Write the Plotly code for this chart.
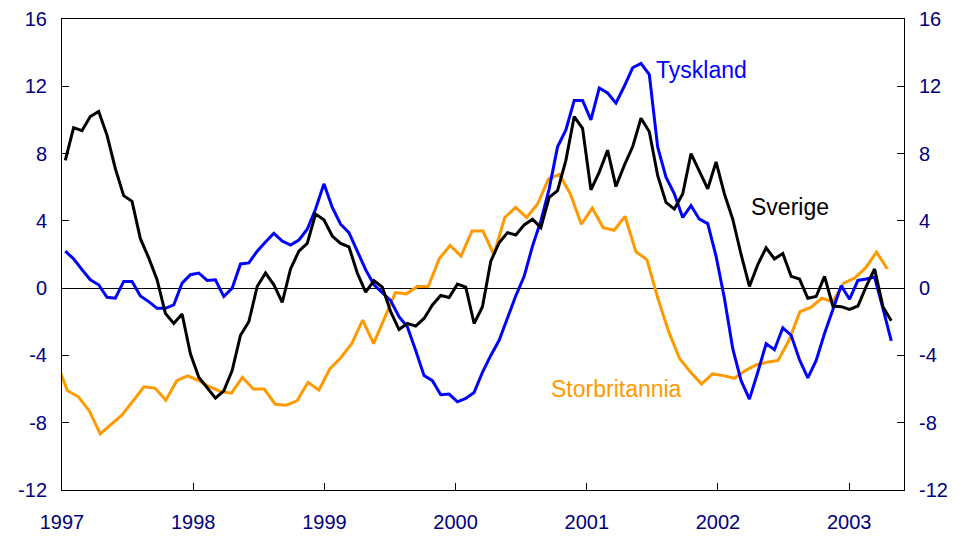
import numpy as np
import plotly.graph_objects as go

# ---------------- data ----------------
years = [1997, 1998, 1999, 2000, 2001, 2002, 2003]
year_labels = [str(y) for y in years]
y_ticks = [-12, -8, -4, 0, 4, 8, 12, 16]
y_tick_labels = [str(v) for v in y_ticks]

sverige = [7.6, 9.54, 9.36, 10.2, 10.5, 9.1, 7.1, 5.5, 5.16, 2.94,
           1.8, 0.5, -1.5, -2.1, -1.54, -3.9, -5.3, -5.9, -6.54, -6.1,
           -4.9, -2.8, -2.0, 0.1, 0.9, 0.2, -0.84, 1.14, 2.2, 2.66,
           4.4, 4.06, 3.1, 2.66, 2.46, 0.9, -0.24, 0.44, 0.06, -1.4,
           -2.46, -2.1, -2.26, -1.8, -1.0, -0.44, -0.56, 0.24, 0.06, -2.1,
           -1.1, 1.6, 2.7, 3.3, 3.16, 3.76, 4.1, 3.6, 5.4, 5.8,
           7.6, 10.2, 9.5, 5.84, 6.9, 8.2, 6.04, 7.3, 8.4, 10.1,
           9.3, 6.7, 5.1, 4.7, 5.6, 8.0, 6.9, 5.9, 7.5, 5.6,
           4.1, 2.0, 0.1, 1.4, 2.4, 1.74, 2.06, 0.7, 0.54, -0.6,
           -0.5, 0.7, -1.06, -1.1, -1.26, -1.06, 0.1, 1.14, -1.1, -1.94]

tyskland = [2.2, 1.74, 1.1, 0.5, 0.2, -0.54, -0.6, 0.4, 0.4, -0.46,
            -0.8, -1.2, -1.2, -1.0, 0.3, 0.8, 0.9, 0.46, 0.5, -0.5,
            0.0, 1.44, 1.5, 2.2, 2.74, 3.26, 2.8, 2.56, 2.86, 3.5,
            4.7, 6.2, 4.8, 3.8, 3.3, 2.2, 1.1, 0.2, -0.3, -0.74,
            -1.7, -2.3, -3.7, -5.2, -5.5, -6.34, -6.3, -6.76, -6.56, -6.2,
            -5.0, -4.0, -3.1, -1.8, -0.45, 0.7, 2.5, 4.0, 5.9, 8.4,
            9.4, 11.16, 11.16, 10.0, 11.9, 11.6, 11.0, 12.0, 13.1, 13.36,
            12.7, 8.4, 6.6, 5.6, 4.2, 4.9, 4.1, 3.84, 1.9, -0.6,
            -3.6, -5.5, -6.6, -5.0, -3.3, -3.66, -2.36, -2.8, -4.26, -5.34,
            -4.3, -2.7, -1.3, 0.14, -0.66, 0.46, 0.54, 0.66, -1.2, -3.14]

storbritannia = [-4.4, -6.1, -6.46, -7.3, -8.66, -8.1, -7.54, -6.7, -5.86, -5.94,
                 -6.66, -5.5, -5.22, -5.5, -5.86, -6.14, -6.24, -5.3, -6.0, -6.0,
                 -6.9, -6.96, -6.7, -5.6, -6.06, -4.8, -4.14, -3.3, -1.9, -3.3,
                 -1.8, -0.26, -0.34, 0.1, 0.1, 1.74, 2.54, 1.9, 3.4, 3.4,
                 2.0, 4.2, 4.8, 4.2, 5.0, 6.5, 6.76, 5.6, 3.8, 4.76,
                 3.6, 3.44, 4.26, 2.16, 1.7, -0.6, -2.6, -4.2, -5.0, -5.7,
                 -5.1, -5.2, -5.36, -4.9, -4.56, -4.4, -4.3, -3.1, -1.4, -1.14,
                 -0.6, -0.8, 0.3, 0.6, 1.2, 2.14, 1.14]

# time positions (decimal years)
x_dense = np.linspace(1997.025, 2003.321, len(sverige))
x_month = 1997 + (np.arange(len(storbritannia)) - 0.5) / 12.0

BLUE = "#0000FF"
BLACK = "#000000"
ORANGE = "#FF9900"
NAVY = "#000080"
FONT = "Liberation Sans, Arial, sans-serif"

fig = go.Figure()
fig.add_trace(go.Scatter(x=x_month, y=storbritannia, mode="lines",
                         line=dict(color=ORANGE, width=3), name="Storbritannia",
                         hoverinfo="skip"))
fig.add_trace(go.Scatter(x=x_dense, y=tyskland, mode="lines",
                         line=dict(color=BLUE, width=3), name="Tyskland",
                         hoverinfo="skip"))
fig.add_trace(go.Scatter(x=x_dense, y=sverige, mode="lines",
                         line=dict(color=BLACK, width=3), name="Sverige",
                         hoverinfo="skip"))
# invisible trace to activate the right-hand axis
fig.add_trace(go.Scatter(x=[x_dense[0]], y=[None], yaxis="y2", mode="lines",
                         showlegend=False, hoverinfo="skip"))

fig.add_annotation(x=2001.878, y=12.98, text="Tyskland", showarrow=False,
                   font=dict(family=FONT, size=23, color=BLUE),
                   xanchor="center", yanchor="middle")
fig.add_annotation(x=2002.549, y=4.82, text="Sverige", showarrow=False,
                   font=dict(family=FONT, size=23, color=BLACK),
                   xanchor="center", yanchor="middle")
fig.add_annotation(x=2001.23, y=-5.98, text="Storbritannia", showarrow=False,
                   font=dict(family=FONT, size=23, color=ORANGE),
                   xanchor="center", yanchor="middle")

axis_common = dict(showgrid=False, showline=True, linecolor="black", linewidth=1,
                   ticks="inside", ticklen=7, tickcolor="black", tickwidth=1,
                   automargin=False,
                   tickfont=dict(family=FONT, size=20, color=NAVY))

fig.update_layout(
    width=961, height=536,
    margin=dict(l=54, r=65, t=11, b=54, autoexpand=False),
    paper_bgcolor="white", plot_bgcolor="white",
    showlegend=False,
    xaxis=dict(range=[1997.0, 2003.418], tickmode="array", tickvals=years,
               ticktext=year_labels, mirror=True, zeroline=False,
               ticklabelstandoff=14, **axis_common),
    yaxis=dict(range=[-12, 16], tickmode="array", tickvals=y_ticks,
               ticktext=y_tick_labels, zeroline=True, zerolinecolor="black",
               zerolinewidth=1, ticklabelstandoff=10, **axis_common),
    yaxis2=dict(range=[-12, 16], tickmode="array", tickvals=y_ticks,
                ticktext=y_tick_labels, overlaying="y", side="right",
                zeroline=False, ticklabelstandoff=10, **axis_common),
)

fig.write_html("out.html")
